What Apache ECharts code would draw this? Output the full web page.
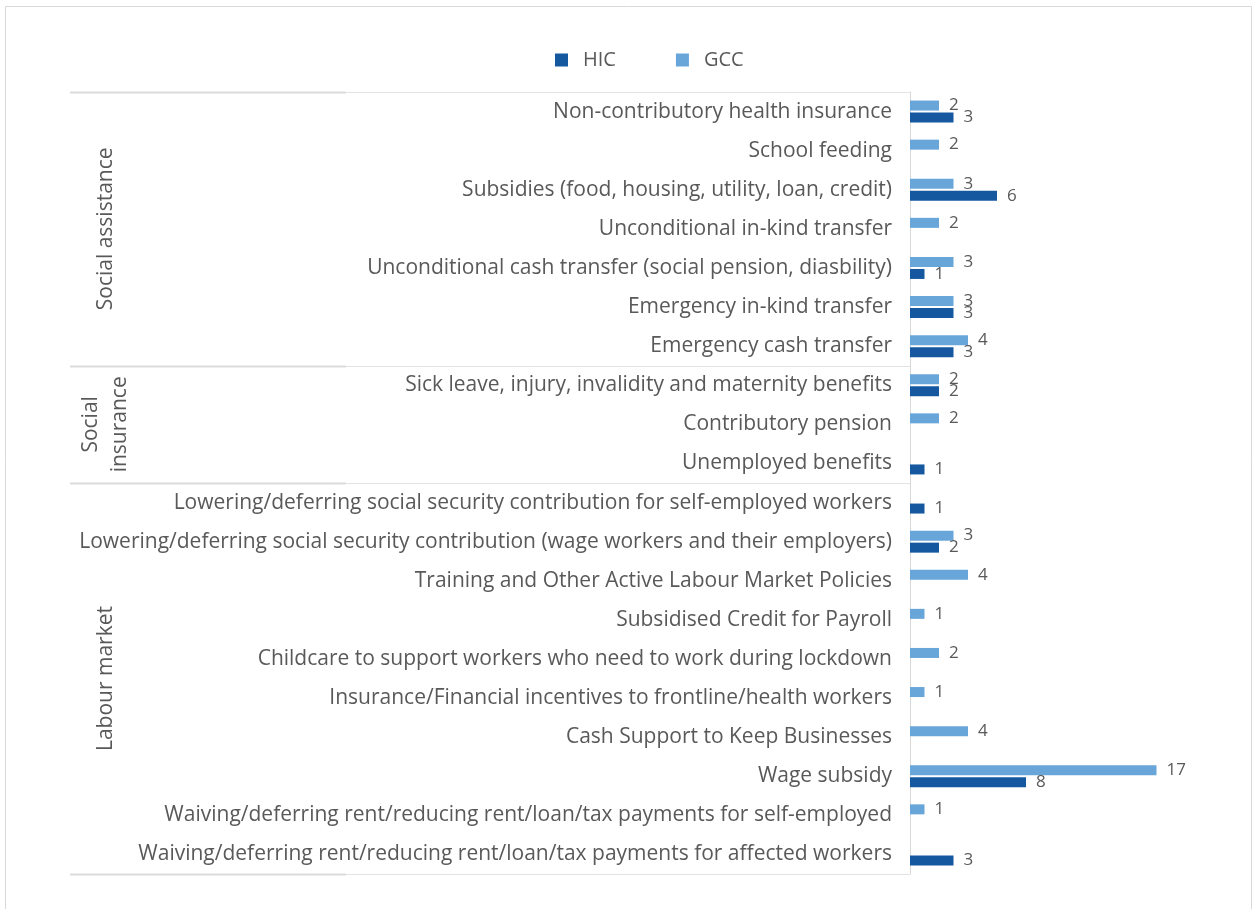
<!DOCTYPE html>
<html>
<head>
<meta charset="utf-8">
<script src="https://cdn.jsdelivr.net/npm/echarts@6/dist/echarts.min.js"></script>
<style>
  html, body { margin: 0; padding: 0; background: #fff; }
  #chart { width: 1253px; height: 909px; }
</style>
</head>
<body>
<div id="chart"></div>
<script>
// categories top to bottom
const categories = [
  'Non-contributory health insurance',
  'School feeding',
  'Subsidies (food, housing, utility, loan, credit)',
  'Unconditional in-kind transfer',
  'Unconditional cash transfer (social pension, diasbility)',
  'Emergency in-kind transfer',
  'Emergency cash transfer',
  'Sick leave, injury, invalidity and maternity benefits',
  'Contributory pension',
  'Unemployed benefits',
  'Lowering/deferring social security contribution for self-employed workers',
  'Lowering/deferring social security contribution (wage workers and their employers)',
  'Training and Other Active Labour Market Policies',
  'Subsidised Credit for Payroll',
  'Childcare to support workers who need to work during lockdown',
  'Insurance/Financial incentives to frontline/health workers',
  'Cash Support to Keep Businesses',
  'Wage subsidy',
  'Waiving/deferring rent/reducing rent/loan/tax payments for self-employed',
  'Waiving/deferring rent/reducing rent/loan/tax payments for affected workers'
]
const hicValues = [3, null, 6, null, 1, 3, 3, 2, null, 1, 1, 2, null, null, null, null, null, 8, null, 3]
const gccValues = [2, 2, 3, 2, 3, 3, 4, 2, 2, null, null, 3, 4, 1, 2, 1, 4, 17, 1, null]

// left-side group labels and how many categories each covers
const groupNames = ['Social assistance', 'Social\ninsurance', 'Labour market']
const groupSizes = [7, 3, 10]

const textColor = '#595959'
const fontFamily = '"Open Sans", sans-serif'

const chart = echarts.init(document.getElementById('chart'))

const labelStyle = {
  show: true,
  position: 'right',
  distance: 10,
  fontSize: 17,
  color: textColor,
  fontFamily: fontFamily
}

const option = {
  animation: false,
  backgroundColor: '#fff',
  legend: {
    data: ['HIC', 'GCC'],
    left: 550,
    top: 45,
    icon: 'rect',
    itemWidth: 13,
    itemHeight: 13,
    itemGap: 60,
    textStyle: { fontSize: 20, color: textColor, fontFamily: fontFamily, padding: [0, 0, 0, 10] }
  },
  grid: {
    left: 910,
    right: 53,
    top: 92,
    bottom: 35,
    containLabel: false
  },
  xAxis: {
    type: 'value',
    min: 0,
    max: 20,
    show: false
  },
  yAxis: {
    type: 'category',
    inverse: true,
    data: categories,
    axisLine: { show: true, lineStyle: { color: '#d9d9d9', width: 1 } },
    axisTick: { show: false },
    splitLine: { show: false },
    axisLabel: {
      margin: 18,
      fontSize: 21,
      color: textColor,
      fontFamily: fontFamily
    }
  },
  series: [
    {
      name: 'GCC',
      type: 'bar',
      data: gccValues,
      barWidth: 10,
      barGap: '20%',
      itemStyle: { color: '#68a6da' },
      label: labelStyle
    },
    {
      name: 'HIC',
      type: 'bar',
      data: hicValues,
      barWidth: 10,
      barGap: '20%',
      itemStyle: { color: '#1558a0' },
      label: labelStyle
    }
  ]
}

chart.setOption(option)

// group separators and rotated group titles, placed from the category axis
const yPix = (i) => chart.convertToPixel({ yAxisIndex: 0 }, categories[i])
const band = yPix(1) - yPix(0)
const bounds = [yPix(0) - band / 2]
let idx = 0
groupSizes.forEach(n => {
  idx += n
  bounds.push(yPix(idx - 1) + band / 2)
})

const graphics = [
  {
    type: 'rect',
    shape: { x: 5.5, y: 6.5, width: 1246, height: 920 },
    style: { fill: 'none', stroke: '#d9d9d9', lineWidth: 1 },
    silent: true
  }
]
bounds.forEach(y => {
  const yy = Math.round(y) + 0.5
  graphics.push({
    type: 'line',
    shape: { x1: 346, y1: yy, x2: 910, y2: yy },
    style: { stroke: '#e3e3e3', lineWidth: 1 },
    silent: true
  })
  graphics.push({
    type: 'line',
    shape: { x1: 70, y1: yy, x2: 346, y2: yy },
    style: { stroke: '#dcdcdc', lineWidth: 2 },
    silent: true
  })
})
groupNames.forEach((name, i) => {
  graphics.push({
    type: 'text',
    x: 106,
    y: (bounds[i] + bounds[i + 1]) / 2,
    rotation: Math.PI / 2,
    style: {
      text: name,
      fill: textColor,
      font: '21px ' + fontFamily,
      align: 'center',
      verticalAlign: 'middle',
      lineHeight: 29
    },
    silent: true
  })
})

chart.setOption({ graphic: graphics })
</script>
</body>
</html>
